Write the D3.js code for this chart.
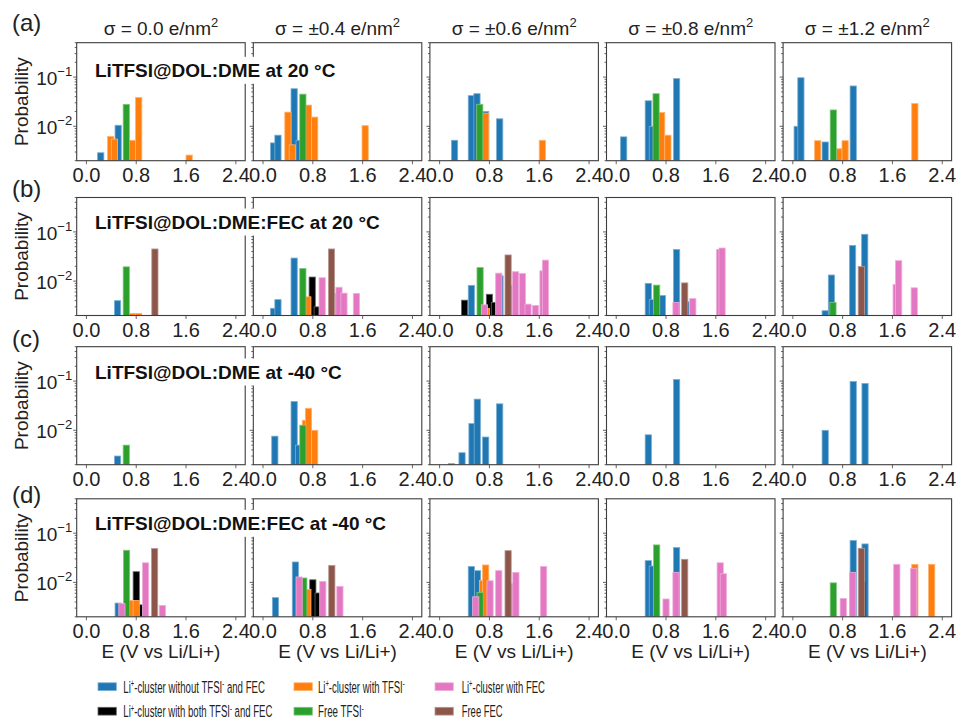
<!DOCTYPE html>
<html>
<head>
<meta charset="utf-8">
<script src="https://cdn.jsdelivr.net/npm/d3@7"></script>
<style>
  body { margin: 0; background: #fff; }
  svg { display: block; font-family: "Liberation Sans", Arial, sans-serif; }
</style>
</head>
<body>
<svg id="chart" width="956" height="721"></svg>
<script>
// ---- data ----
var sigmaLabels = ['0.0', '±0.4', '±0.6', '±0.8', '±1.2'];
var rowLabels = ['(a)', '(b)', '(c)', '(d)'];
var systemLabels = [
  'LiTFSI@DOL:DME at 20 °C',
  'LiTFSI@DOL:DME:FEC at 20 °C',
  'LiTFSI@DOL:DME at -40 °C',
  'LiTFSI@DOL:DME:FEC at -40 °C'
];
var xTickValues = [0, 0.8, 1.6, 2.4];
var yLabelTicks = [1e-2, 1e-1];
var yLabelExponents = ['−2', '−1'];
var binWidth = 0.1;

// each series: [row][column] -> list of [E (V), probability]
var clusterBare = [
  [ [[0.23, 0.0029], [0.51, 0.0105]],
    [[0.17, 0.0046], [0.24, 0.0066], [0.50, 0.058], [0.58, 0.0052]],
    [[0.24, 0.0052], [0.51, 0.042], [0.60, 0.046], [0.74, 0.020], [0.965, 0.0142]],
    [[0.12, 0.0061], [0.515, 0.033], [0.58, 0.010], [0.97, 0.093]],
    [[0.07, 0.010], [0.13, 0.097], [0.52, 0.0048], [0.97, 0.066]] ],
  [ [[0.50, 0.0040]],
    [[0.17, 0.0028], [0.24, 0.0042], [0.50, 0.0294]],
    [[0.51, 0.0082], [0.97, 0.0128]],
    [[0.515, 0.0090], [0.58, 0.0042], [0.74, 0.0051], [0.97, 0.044], [1.12, 0.0038]],
    [[0.52, 0.0025], [0.62, 0.0133], [0.96, 0.053], [1.155, 0.0895]] ],
  [ [[0.50, 0.0030]],
    [[0.19, 0.0076], [0.50, 0.0385], [0.57, 0.0050]],
    [[0.19, 0.0021], [0.36, 0.0035], [0.52, 0.0137], [0.605, 0.043], [0.74, 0.0073], [0.965, 0.0345]],
    [[0.515, 0.0081], [0.97, 0.108]],
    [[0.52, 0.010], [0.97, 0.098], [1.16, 0.0895]] ],
  [ [[0.51, 0.0038]],
    [[0.20, 0.0049], [0.52, 0.026]],
    [[0.51, 0.021], [0.61, 0.0173]],
    [[0.515, 0.0277], [0.58, 0.0215], [0.97, 0.051]],
    [[0.97, 0.071], [1.16, 0.0605]] ]
];

var clusterBoth = [
  [ [], [], [], [], [] ],
  [ [[0.79, 0.0021]],
    [[0.79, 0.0121], [0.87, 0.0030]],
    [[0.40, 0.0041], [0.80, 0.0054], [0.88, 0.0037]],
    [], [] ],
  [ [], [], [], [], [] ],
  [ [[0.80, 0.0165], [0.88, 0.0035]],
    [[0.80, 0.0113], [0.885, 0.0061]],
    [], [],
    [[1.12, 0.0106]] ]
];

var clusterTfsi = [
  [ [[0.39, 0.0062], [0.45, 0.0055], [0.74, 0.0052], [0.84, 0.0386], [1.65, 0.0026]],
    [[0.40, 0.0194], [0.47, 0.0042], [0.73, 0.027], [0.83, 0.0154], [1.64, 0.0103]],
    [[0.74, 0.0185], [1.65, 0.0052]],
    [[0.73, 0.019], [0.83, 0.0066]],
    [[0.40, 0.0051], [0.74, 0.0035], [0.84, 0.0051], [1.96, 0.029]] ],
  [ [[0.74, 0.0022], [0.84, 0.0022]],
    [[0.72, 0.0048]],
    [[0.75, 0.0028]],
    [], [] ],
  [ [],
    [[0.68, 0.016], [0.73, 0.028], [0.83, 0.010]],
    [], [], [] ],
  [ [[0.72, 0.0043], [0.80, 0.0043]],
    [[0.72, 0.0072]],
    [[0.69, 0.011], [0.74, 0.0226]],
    [],
    [[1.96, 0.0233], [2.23, 0.0233]] ]
];

var freeTfsi = [
  [ [[0.64, 0.028]], [[0.64, 0.045]], [[0.645, 0.028]], [[0.64, 0.046]], [[0.65, 0.0215]] ],
  [ [[0.64, 0.0195]], [[0.64, 0.018]], [[0.65, 0.0189]], [[0.65, 0.0083]], [[0.645, 0.0037]] ],
  [ [[0.64, 0.0050]], [[0.64, 0.0127]], [], [], [] ],
  [ [[0.645, 0.045]], [[0.655, 0.0123]], [[0.65, 0.0062]], [[0.65, 0.0578]], [[0.65, 0.0098]] ]
];

var clusterFec = [
  [ [], [], [], [], [] ],
  [ [],
    [[0.95, 0.0117], [1.19, 0.0057], [1.22, 0.0075], [1.30, 0.0057], [1.50, 0.0056]],
    [[0.72, 0.0033], [0.95, 0.0145], [1.13, 0.0081], [1.22, 0.0155], [1.33, 0.0143],
     [1.42, 0.0034], [1.54, 0.0032], [1.66, 0.0162], [1.70, 0.0267]],
    [[0.96, 0.0037], [1.23, 0.0044], [1.66, 0.044], [1.70, 0.047]],
    [[1.66, 0.0085], [1.70, 0.026], [1.95, 0.0073]] ],
  [ [], [], [], [], [] ],
  [ [[0.57, 0.0037], [0.95, 0.025], [1.22, 0.0034]],
    [[0.58, 0.0129], [0.96, 0.0105], [1.235, 0.0083]],
    [[0.58, 0.0051], [0.81, 0.0108], [0.95, 0.0173], [1.16, 0.0095], [1.225, 0.016], [1.67, 0.021]],
    [[0.80, 0.0046], [0.96, 0.016], [1.67, 0.025], [1.72, 0.015]],
    [[0.81, 0.0047], [0.96, 0.016], [1.67, 0.0233], [1.94, 0.0193]] ]
];

var freeFec = [
  [ [], [], [], [], [] ],
  [ [[1.10, 0.045]], [[1.10, 0.045]], [[1.10, 0.034]], [[1.10, 0.0092]], [[1.10, 0.0198]] ],
  [ [], [], [], [], [] ],
  [ [[1.095, 0.0487]], [[1.105, 0.0222]], [[1.10, 0.0442]], [[1.10, 0.0295]], [[1.10, 0.0494]] ]
];

// draw order of the bars
var series = [
  { name: 'Li^+-cluster without TFSI^- and FEC', values: clusterBare, color: '#1f77b4' },
  { name: 'Li^+-cluster with both TFSI^- and FEC', values: clusterBoth, color: '#000000' },
  { name: 'Li^+-cluster with TFSI^-', values: clusterTfsi, color: '#ff7f0e' },
  { name: 'Free TFSI^-', values: freeTfsi, color: '#2ca02c' },
  { name: 'Li^+-cluster with FEC', values: clusterFec, color: '#e377c2' },
  { name: 'Free FEC', values: freeFec, color: '#8c564b' }
];

// legend layout: three columns, two rows
var legendCells = [
  { s: 0, col: 0, row: 0, w: 141.7 }, { s: 2, col: 1, row: 0, w: 86.7 }, { s: 4, col: 2, row: 0, w: 83.3 },
  { s: 1, col: 0, row: 1, w: 149.3 }, { s: 3, col: 1, row: 1, w: 45.7 }, { s: 5, col: 2, row: 1, w: 41 }
];

// ---- layout ----
var svg = d3.select('#chart');
var panelW = 168.5;
var panelH = 118;
var rowTop = [42.7, 197.5, 346.7, 498.8];
var textCenter = [70, 221.7, 371.7, 523];
var axisColor = '#3d3d3d';

var colLeft = function(c) { return 76.7 + c * 176.6; };

var x = d3.scaleLinear().domain([-0.156, 2.55]).range([0, panelW]);
var y = d3.scaleLog().domain([0.002, 0.5]).range([panelH, 0]);

var edgeColor = function(c) { return d3.interpolateRgb(c, '#ffffff')(0.4); };

// write text with ^x superscripts; the shift back is put on the next piece
var richText = function(sel, str, supSize, supShift) {
  var parts = str.split(/\^(.)/);
  var pending = 0;
  parts.forEach(function(p, i) {
    if (p === '') return;
    if (i % 2 === 1) {
      sel.append('tspan').attr('font-size', supSize).attr('dy', -supShift - pending).text(p);
      pending = -supShift;
    } else {
      sel.append('tspan').attr('dy', -pending).text(p);
      pending = 0;
    }
  });
};

var clipId = 0;

var renderPanel = function(r, c) {
  var g = svg.append('g').attr('transform', 'translate(' + colLeft(c) + ',' + rowTop[r] + ')');

  var id = 'clip' + (clipId++);
  g.append('clipPath').attr('id', id)
    .append('rect').attr('width', panelW).attr('height', panelH);

  var bars = g.append('g').attr('clip-path', 'url(#' + id + ')');
  series.forEach(function(s) {
    bars.selectAll(null)
      .data(s.values[r][c])
      .enter().append('rect')
      .attr('x', function(d) { return x(d[0] - binWidth / 2); })
      .attr('width', function(d) { return x(d[0] + binWidth / 2) - x(d[0] - binWidth / 2); })
      .attr('y', function(d) { return y(d[1]); })
      .attr('height', function(d) { return panelH - y(d[1]); })
      .attr('fill', s.color)
      .attr('stroke', edgeColor(s.color))
      .attr('stroke-width', 0.8);
  });

  // y ticks, major and minor
  g.selectAll(null)
    .data(y.ticks())
    .enter().append('line')
    .attr('x1', function(d) { return Math.abs(Math.log10(d) - Math.round(Math.log10(d))) < 1e-9 ? -3.5 : -2; })
    .attr('x2', 0)
    .attr('y1', function(d) { return y(d); })
    .attr('y2', function(d) { return y(d); })
    .attr('stroke', axisColor)
    .attr('stroke-width', 0.8);

  // x ticks
  g.selectAll(null)
    .data(xTickValues)
    .enter().append('line')
    .attr('x1', function(d) { return x(d); })
    .attr('x2', function(d) { return x(d); })
    .attr('y1', panelH)
    .attr('y2', panelH + 3.5)
    .attr('stroke', axisColor)
    .attr('stroke-width', 0.8);

  g.selectAll(null)
    .data(xTickValues)
    .enter().append('text')
    .attr('x', function(d) { return x(d); })
    .attr('y', panelH + 21)
    .attr('text-anchor', 'middle')
    .attr('font-size', 20)
    .attr('fill', '#222')
    .text(function(d) { return d.toFixed(1); });

  g.append('rect')
    .attr('width', panelW)
    .attr('height', panelH)
    .attr('fill', 'none')
    .attr('stroke', axisColor)
    .attr('stroke-width', 1.1);

  if (c === 0) {
    g.selectAll(null)
      .data(yLabelTicks)
      .enter().append('text')
      .attr('x', -4.5)
      .attr('y', function(d) { return y(d) + 8; })
      .attr('text-anchor', 'end')
      .attr('font-size', 19)
      .attr('fill', '#222')
      .each(function(d, i) {
        var t = d3.select(this);
        t.append('tspan').text('10');
        t.append('tspan').attr('font-size', 13).attr('dy', -9).text(yLabelExponents[i]);
      });

    g.append('text')
      .attr('transform', 'translate(' + (28.5 - colLeft(0)) + ',' + (panelH / 2) + ') rotate(-90)')
      .attr('text-anchor', 'middle')
      .attr('font-size', 19)
      .attr('fill', '#222')
      .text('Probability');
  }

  if (r === 0) {
    var title = g.append('text')
      .attr('x', panelW / 2)
      .attr('y', 35 - rowTop[0])
      .attr('text-anchor', 'middle')
      .attr('font-size', 19)
      .attr('fill', '#222');
    title.append('tspan').text('σ = ' + sigmaLabels[c] + ' e/nm');
    title.append('tspan').attr('font-size', 13).attr('dy', -8).text('2');
  }

  if (r === rowTop.length - 1) {
    g.append('text')
      .attr('x', panelW / 2)
      .attr('y', 658 - rowTop[r])
      .attr('text-anchor', 'middle')
      .attr('font-size', 19)
      .attr('fill', '#222')
      .text('E (V vs Li/Li+)');
  }
};

rowTop.forEach(function(top, r) {
  sigmaLabels.forEach(function(s, c) { renderPanel(r, c); });
});

// system annotations with a white box over the spines
rowTop.forEach(function(top, r) {
  var box = svg.append('rect').attr('fill', '#fff');
  var t = svg.append('text')
    .attr('x', 95)
    .attr('y', textCenter[r] + 6.8)
    .attr('font-size', 19)
    .attr('font-weight', 'bold')
    .attr('fill', '#111')
    .text(systemLabels[r]);
  var bb = t.node().getBBox();
  box.attr('x', bb.x - 4).attr('y', bb.y - 3)
    .attr('width', bb.width + 8).attr('height', bb.height + 6);

  svg.append('text')
    .attr('x', 12)
    .attr('y', [31, 197, 347, 503][r])
    .attr('font-size', 24)
    .attr('fill', '#222')
    .text(rowLabels[r]);
});

// legend (the reference's legend text is horizontally condensed)
var legendPatchX = [98, 294, 435];
var legendTextX = [123.3, 318, 461.7];
var legendRowY = [686.7, 711.2];

legendCells.forEach(function(cell) {
  var s = series[cell.s];
  svg.append('rect')
    .attr('x', legendPatchX[cell.col])
    .attr('y', legendRowY[cell.row] - 3.9)
    .attr('width', 18.3)
    .attr('height', 7.8)
    .attr('fill', s.color)
    .attr('stroke', edgeColor(s.color))
    .attr('stroke-width', 0.8);

  var g = svg.append('g');
  var t = g.append('text')
    .attr('x', 0)
    .attr('y', 0)
    .attr('font-size', 16.5)
    .attr('fill', '#222');
  richText(t, s.name, 10, 5.5);
  var w = t.node().getComputedTextLength();
  g.attr('transform', 'translate(' + legendTextX[cell.col] + ',' + (legendRowY[cell.row] + 5.8) + ') scale(' + (cell.w / w) + ',1)');
});
</script>
</body>
</html>
